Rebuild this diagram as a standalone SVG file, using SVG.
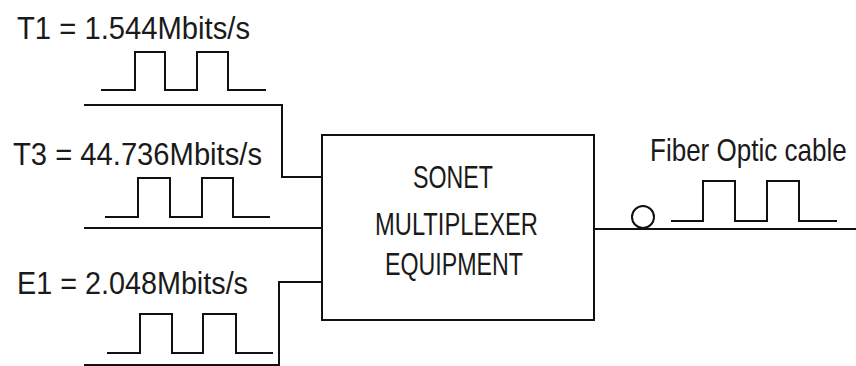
<svg xmlns="http://www.w3.org/2000/svg" width="856" height="366" viewBox="0 0 856 366">
<style>
.ln{fill:none;stroke:#111;stroke-width:2;stroke-linejoin:miter;stroke-linecap:square}
.tx{font-family:"Liberation Sans",Arial,sans-serif;font-size:31px;fill:#1a1a1a}
</style>
<rect width="856" height="366" fill="#fff"/>
<g id="t1">
<text class="tx" x="17" y="39" textLength="233" lengthAdjust="spacingAndGlyphs">T1 = 1.544Mbits/s</text>
<path class="ln" d="M102 90H135V52H165V90H197V52H228V90H265"/>
</g>
<g id="t3">
<text class="tx" x="13" y="165" textLength="249" lengthAdjust="spacingAndGlyphs">T3 = 44.736Mbits/s</text>
<path class="ln" d="M106 217H138V178H170V217H202V178H233V217H269"/>
</g>
<g id="e1">
<text class="tx" x="17" y="294" textLength="231" lengthAdjust="spacingAndGlyphs">E1 = 2.048Mbits/s</text>
<path class="ln" d="M108 353H140V314H172V353H203V314H236V353H272"/>
</g>
<g id="mux">
<rect class="ln" x="322" y="135" width="272" height="185"/>
<text class="tx" x="413" y="188" textLength="80" lengthAdjust="spacingAndGlyphs">SONET</text>
<text class="tx" x="375" y="235" textLength="163" lengthAdjust="spacingAndGlyphs">MULTIPLEXER</text>
<text class="tx" x="385" y="275" textLength="138" lengthAdjust="spacingAndGlyphs">EQUIPMENT</text>
</g>
<g id="fiber">
<text class="tx" transform="translate(650,161) scale(0.84,1)" x="0" y="0">Fiber Optic cable</text>
<circle class="ln" cx="643" cy="217" r="11"/>
<path class="ln" d="M672 221H703V181H735V221H767V181H799V221H836"/>
</g>
<g id="connectors">
<path class="ln" d="M85 105H282V177H322"/>
<path class="ln" d="M85 228H322"/>
<path class="ln" d="M85 365H279V282H322"/>
<path class="ln" d="M594 229H856"/>
</g>
</svg>
